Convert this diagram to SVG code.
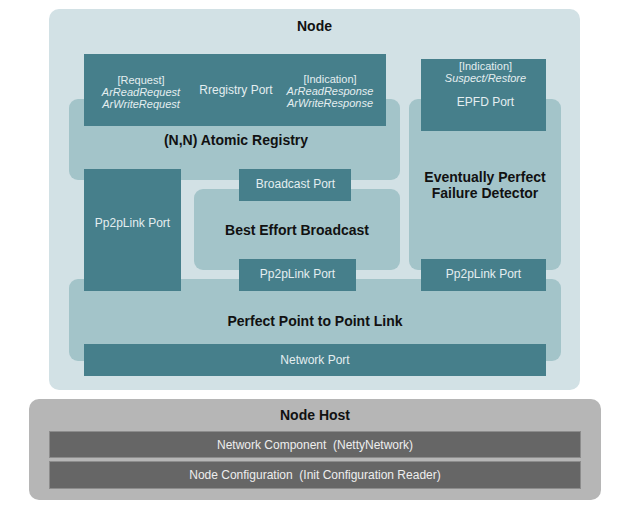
<svg xmlns="http://www.w3.org/2000/svg" width="620" height="520" viewBox="0 0 620 520">
<style>
.node{fill:#d2e1e5}
.comp{fill:#a3c4c9}
.port{fill:#467f8b}
.host{fill:#b6b6b6}
.bar{fill:#666666;stroke:#8c8c8c;stroke-width:1}
.title{font-family:"Liberation Sans",Arial,sans-serif;font-size:14px;font-weight:bold;fill:#111111;text-anchor:middle}
.pt{font-family:"Liberation Sans",Arial,sans-serif;font-size:12px;fill:#e4eef0;text-anchor:middle}
.ev{font-family:"Liberation Sans",Arial,sans-serif;font-size:11px;fill:#e4eef0;text-anchor:middle}
.it{font-style:italic}
.bt{font-family:"Liberation Sans",Arial,sans-serif;font-size:12px;fill:#eeeeee;text-anchor:middle;white-space:pre}
</style>
<rect width="620" height="520" fill="#ffffff"/>
<g id="node">
<rect class="node" x="49" y="9" width="531" height="381" rx="10"/>
<text class="title" x="314.5" y="31">Node</text>
</g>
<g id="atomic-registry">
<rect class="comp" x="69" y="99" width="331" height="81" rx="9"/>
<text class="title" x="236" y="145">(N,N) Atomic Registry</text>
</g>
<g id="best-effort-broadcast">
<rect class="comp" x="194" y="189" width="206" height="81" rx="9"/>
<text class="title" x="297" y="235">Best Effort Broadcast</text>
</g>
<g id="epfd">
<rect class="comp" x="409" y="99" width="152" height="171" rx="9"/>
<text class="title" x="485" y="182">Eventually Perfect</text>
<text class="title" x="485" y="198">Failure Detector</text>
</g>
<g id="pp2p-link">
<rect class="comp" x="69" y="279" width="492" height="82" rx="9"/>
<text class="title" x="315" y="326">Perfect Point to Point Link</text>
</g>
<g id="registry-port">
<rect class="port" x="84" y="54" width="302" height="72"/>
<text class="ev" x="141" y="84">[Request]</text>
<text class="ev it" x="141" y="96">ArReadRequest</text>
<text class="ev it" x="141" y="108">ArWriteRequest</text>
<text class="pt" x="236" y="94">Rregistry Port</text>
<text class="ev" x="330" y="83">[Indication]</text>
<text class="ev it" x="330" y="95">ArReadResponse</text>
<text class="ev it" x="330" y="107">ArWriteResponse</text>
</g>
<g id="epfd-port">
<rect class="port" x="421" y="59" width="125" height="72"/>
<text class="ev" x="485.5" y="70">[Indication]</text>
<text class="ev it" x="485.5" y="82">Suspect/Restore</text>
<text class="pt" x="485.5" y="106">EPFD Port</text>
</g>
<g id="ar-pp2plink-port">
<rect class="port" x="84" y="169" width="97" height="122"/>
<text class="pt" x="132.5" y="227">Pp2pLink Port</text>
</g>
<g id="broadcast-port">
<rect class="port" x="239" y="169" width="112" height="32"/>
<text class="pt" x="295.5" y="188">Broadcast Port</text>
</g>
<g id="beb-pp2plink-port">
<rect class="port" x="239" y="259" width="117" height="32"/>
<text class="pt" x="297.5" y="278">Pp2pLink Port</text>
</g>
<g id="epfd-pp2plink-port">
<rect class="port" x="421" y="259" width="125" height="32"/>
<text class="pt" x="483.5" y="278">Pp2pLink Port</text>
</g>
<g id="network-port">
<rect class="port" x="84" y="344" width="462" height="32"/>
<text class="pt" x="315" y="364">Network Port</text>
</g>
<g id="node-host">
<rect class="host" x="29" y="399" width="572" height="101" rx="10"/>
<text class="title" x="315" y="420">Node Host</text>
</g>
<g id="network-component">
<rect class="bar" x="49.5" y="431.5" width="531" height="26"/>
<text class="bt" x="315" y="449" xml:space="preserve">Network Component  (NettyNetwork)</text>
</g>
<g id="node-configuration">
<rect class="bar" x="49.5" y="461.5" width="531" height="27"/>
<text class="bt" x="315" y="479" xml:space="preserve">Node Configuration  (Init Configuration Reader)</text>
</g>
<g id="connectors"/>
</svg>
